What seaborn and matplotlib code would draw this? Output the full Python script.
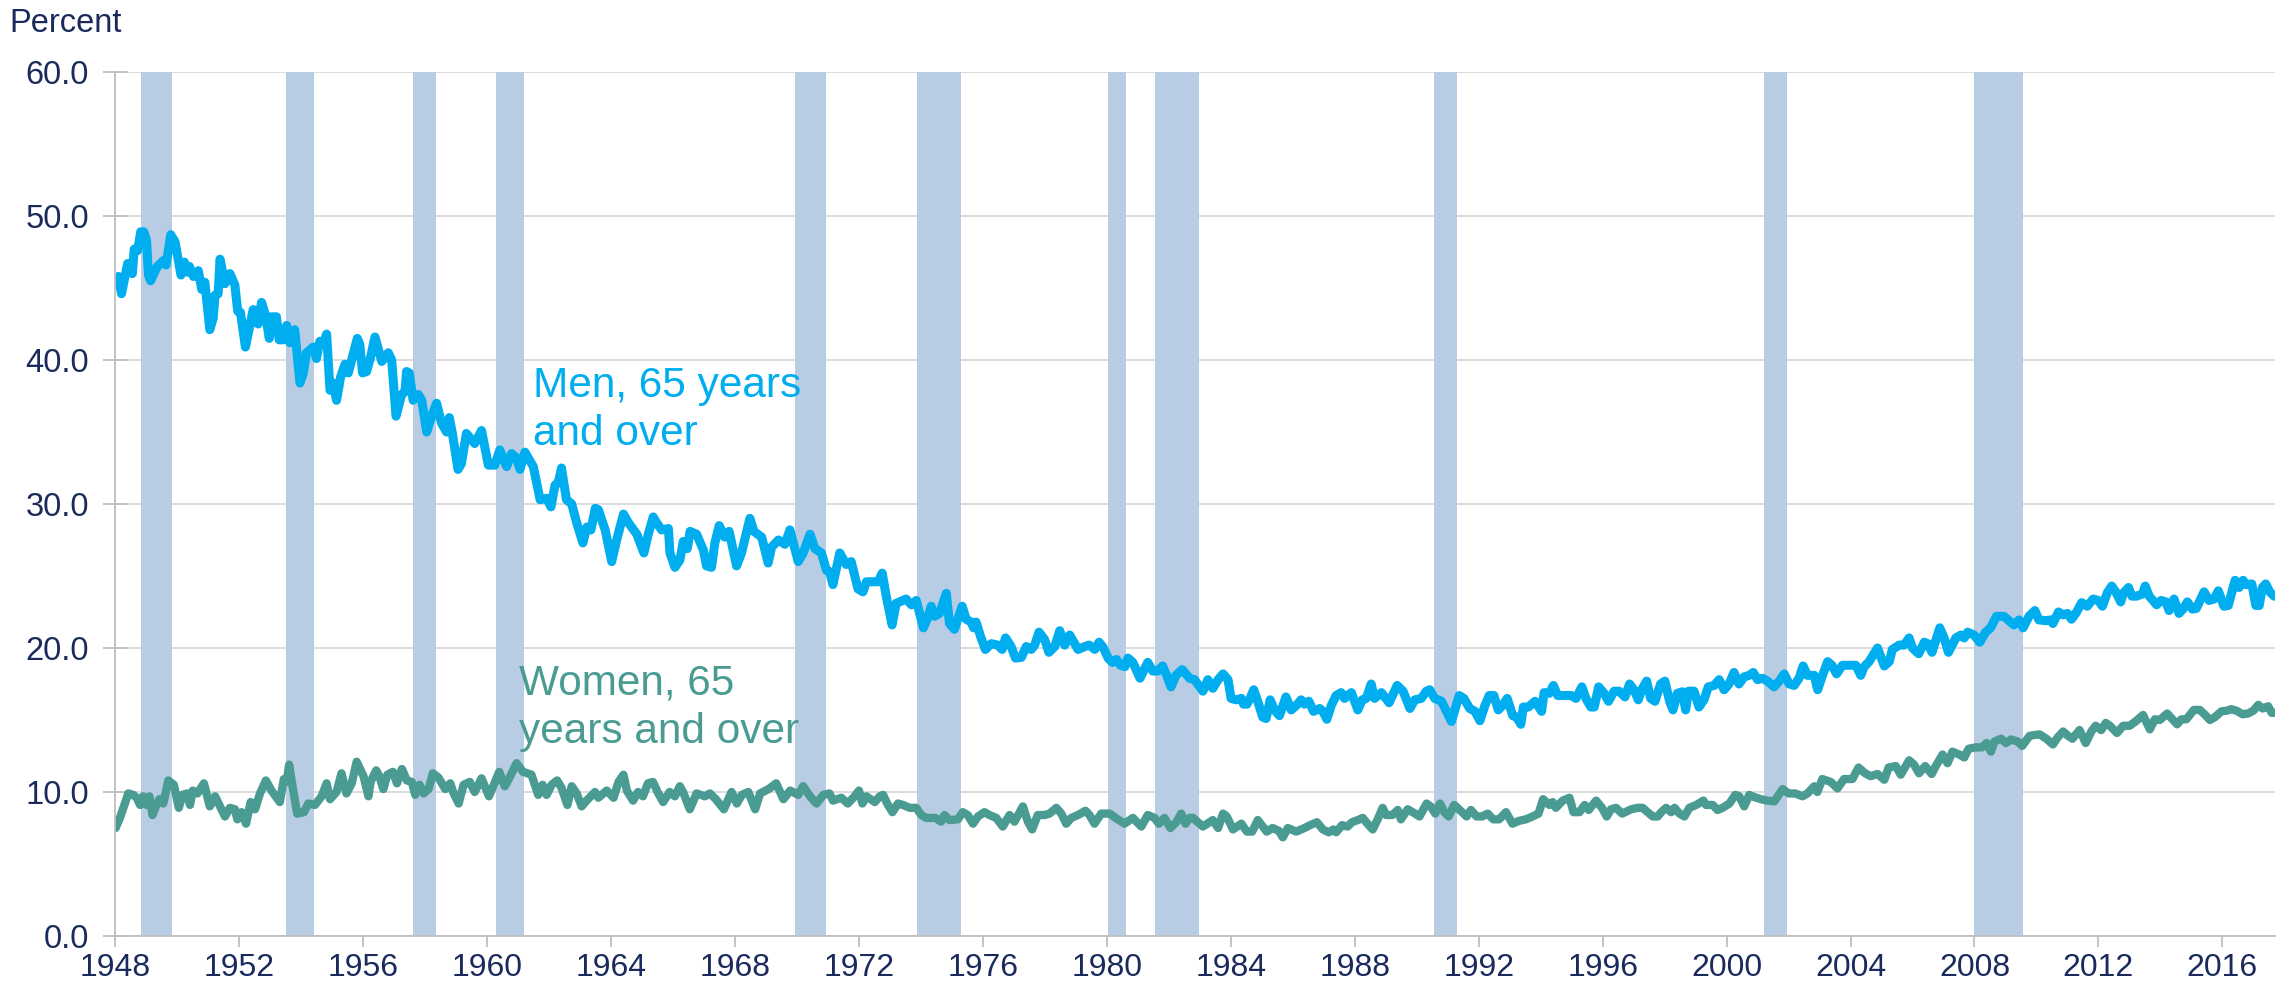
import matplotlib
matplotlib.use("Agg")
import matplotlib.pyplot as plt
import pandas as pd
import seaborn as sns

# Labor force participation, 65 years and over (percent)
men_t = [
    1948.05, 1948.10, 1948.20, 1948.40, 1948.55, 1948.61, 1948.72, 1948.82, 1948.92, 1949.01,
    1949.07, 1949.14, 1949.36, 1949.55, 1949.64, 1949.79, 1949.93, 1950.12, 1950.23, 1950.32,
    1950.39, 1950.52, 1950.68, 1950.79, 1950.89, 1951.05, 1951.16, 1951.22, 1951.32, 1951.38,
    1951.54, 1951.70, 1951.86, 1951.95, 1952.04, 1952.20, 1952.45, 1952.56, 1952.61, 1952.72,
    1952.85, 1952.97, 1953.04, 1953.20, 1953.29, 1953.40, 1953.53, 1953.63, 1953.79, 1953.96,
    1954.07, 1954.17, 1954.39, 1954.49, 1954.60, 1954.71, 1954.82, 1954.93, 1955.03, 1955.14,
    1955.27, 1955.41, 1955.52, 1955.81, 1955.89, 1955.98, 1956.11, 1956.24, 1956.38, 1956.60,
    1956.81, 1956.92, 1957.06, 1957.24, 1957.35, 1957.40, 1957.49, 1957.61, 1957.78, 1957.89,
    1958.05, 1958.21, 1958.37, 1958.53, 1958.69, 1958.78, 1958.88, 1959.06, 1959.17, 1959.33,
    1959.60, 1959.82, 1960.04, 1960.25, 1960.41, 1960.63, 1960.79, 1960.95, 1961.06, 1961.22,
    1961.49, 1961.71, 1961.92, 1962.06, 1962.19, 1962.30, 1962.40, 1962.56, 1962.73, 1962.89,
    1963.09, 1963.22, 1963.35, 1963.49, 1963.59, 1963.81, 1964.02, 1964.18, 1964.40, 1964.56,
    1964.83, 1965.06, 1965.20, 1965.36, 1965.47, 1965.63, 1965.85, 1965.90, 1966.06, 1966.22,
    1966.33, 1966.46, 1966.55, 1966.76, 1966.98, 1967.08, 1967.24, 1967.35, 1967.49, 1967.67,
    1967.81, 1967.94, 1968.05, 1968.21, 1968.48, 1968.61, 1968.86, 1969.07, 1969.18, 1969.40,
    1969.61, 1969.77, 1970.04, 1970.20, 1970.42, 1970.58, 1970.79, 1970.95, 1971.05, 1971.16,
    1971.38, 1971.59, 1971.75, 1971.97, 1972.13, 1972.24, 1972.45, 1972.62, 1972.75, 1972.88,
    1973.07, 1973.20, 1973.31, 1973.52, 1973.69, 1973.85, 1974.08, 1974.22, 1974.33, 1974.44,
    1974.60, 1974.82, 1974.92, 1975.08, 1975.19, 1975.33, 1975.46, 1975.62, 1975.70, 1975.78,
    1975.94, 1976.08, 1976.27, 1976.48, 1976.62, 1976.73, 1976.91, 1977.05, 1977.24, 1977.40,
    1977.56, 1977.67, 1977.81, 1977.99, 1978.13, 1978.32, 1978.48, 1978.64, 1978.80, 1979.07,
    1979.29, 1979.43, 1979.61, 1979.75, 1979.88, 1980.04, 1980.18, 1980.31, 1980.44, 1980.58,
    1980.68, 1980.84, 1981.07, 1981.32, 1981.48, 1981.64, 1981.80, 1981.93, 1982.07, 1982.23,
    1982.43, 1982.67, 1982.83, 1983.10, 1983.26, 1983.42, 1983.59, 1983.75, 1983.91, 1984.01,
    1984.17, 1984.34, 1984.41, 1984.52, 1984.60, 1984.74, 1984.87, 1985.03, 1985.14, 1985.27,
    1985.41, 1985.57, 1985.78, 1985.95, 1986.11, 1986.27, 1986.38, 1986.52, 1986.67, 1986.87,
    1986.97, 1987.10, 1987.24, 1987.40, 1987.56, 1987.67, 1987.89, 1988.10, 1988.24, 1988.37,
    1988.53, 1988.64, 1988.86, 1989.11, 1989.37, 1989.56, 1989.78, 1989.94, 1990.15, 1990.31,
    1990.42, 1990.58, 1990.80, 1990.96, 1991.12, 1991.23, 1991.37, 1991.52, 1991.71, 1991.88,
    1992.04, 1992.20, 1992.34, 1992.49, 1992.63, 1992.77, 1992.92, 1993.10, 1993.23, 1993.36,
    1993.44, 1993.60, 1993.82, 1994.03, 1994.11, 1994.28, 1994.41, 1994.55, 1994.76, 1994.98,
    1995.14, 1995.33, 1995.46, 1995.62, 1995.73, 1995.87, 1996.05, 1996.19, 1996.37, 1996.53,
    1996.72, 1996.87, 1997.01, 1997.15, 1997.26, 1997.42, 1997.55, 1997.69, 1997.87, 1998.01,
    1998.16, 1998.27, 1998.41, 1998.57, 1998.68, 1998.77, 1998.95, 1999.11, 1999.27, 1999.41,
    1999.60, 1999.76, 1999.92, 2000.08, 2000.24, 2000.40, 2000.57, 2000.73, 2000.86, 2001.00,
    2001.16, 2001.32, 2001.53, 2001.70, 2001.86, 2002.02, 2002.18, 2002.34, 2002.47, 2002.61,
    2002.83, 2002.94, 2003.08, 2003.26, 2003.40, 2003.55, 2003.74, 2003.96, 2004.17, 2004.33,
    2004.44, 2004.60, 2004.87, 2005.09, 2005.25, 2005.35, 2005.57, 2005.73, 2005.89, 2006.00,
    2006.20, 2006.38, 2006.49, 2006.63, 2006.88, 2007.02, 2007.16, 2007.40, 2007.56, 2007.67,
    2007.78, 2007.99, 2008.17, 2008.36, 2008.52, 2008.71, 2008.95, 2009.11, 2009.27, 2009.44,
    2009.57, 2009.76, 2009.95, 2010.08, 2010.30, 2010.46, 2010.53, 2010.71, 2010.86, 2011.00,
    2011.13, 2011.27, 2011.46, 2011.64, 2011.83, 2012.00, 2012.13, 2012.29, 2012.43, 2012.56,
    2012.72, 2012.80, 2012.97, 2013.08, 2013.23, 2013.42, 2013.51, 2013.64, 2013.88, 2014.02,
    2014.18, 2014.28, 2014.44, 2014.60, 2014.73, 2014.87, 2015.03, 2015.16, 2015.41, 2015.57,
    2015.73, 2015.87, 2016.05, 2016.19, 2016.41, 2016.54, 2016.67, 2016.77, 2016.95, 2017.08,
    2017.19, 2017.29, 2017.40, 2017.53, 2017.67,
]
men_v = [
    45.6, 45.8, 44.6, 46.7, 46.0, 47.7, 47.6, 48.9, 48.9, 48.3,
    45.9, 45.5, 46.5, 46.9, 46.6, 48.7, 48.2, 45.9, 46.8, 46.1,
    46.5, 45.8, 46.2, 44.9, 45.4, 42.1, 42.9, 44.5, 44.6, 47.0,
    45.3, 46.0, 45.2, 43.4, 43.3, 40.9, 43.5, 43.4, 42.5, 44.0,
    43.1, 41.5, 43.0, 43.0, 41.4, 41.4, 42.4, 41.2, 42.1, 38.4,
    39.1, 40.5, 40.9, 40.1, 41.3, 41.1, 41.8, 37.9, 38.4, 37.2,
    38.8, 39.7, 39.1, 41.5, 41.1, 39.1, 39.2, 40.2, 41.6, 39.9,
    40.5, 40.0, 36.1, 37.6, 37.8, 39.2, 39.1, 37.2, 37.6, 37.2,
    35.0, 36.1, 37.0, 35.6, 35.0, 36.0, 34.9, 32.4, 32.8, 34.9,
    34.2, 35.1, 32.7, 32.7, 33.75, 32.6, 33.5, 33.2, 32.4, 33.6,
    32.6, 30.3, 30.4, 29.8, 31.3, 31.5, 32.5, 30.3, 30.0, 28.7,
    27.3, 28.4, 28.2, 29.7, 29.6, 28.2, 26.0, 27.5, 29.3, 28.7,
    27.9, 26.6, 27.9, 29.1, 28.7, 28.2, 28.3, 26.6, 25.6, 26.1,
    27.4, 26.9, 28.1, 27.9, 26.8, 25.7, 25.6, 27.3, 28.5, 27.7,
    28.1, 26.8, 25.7, 26.6, 29.0, 28.1, 27.7, 25.9, 27.0, 27.5,
    27.2, 28.2, 26.0, 26.6, 27.9, 26.9, 26.6, 25.4, 25.3, 24.4,
    26.6, 25.8, 26.0, 24.1, 23.9, 24.6, 24.6, 24.6, 25.2, 23.6,
    21.6, 23.1, 23.2, 23.4, 23.0, 23.3, 21.4, 22.1, 22.9, 22.2,
    22.4, 23.8, 21.7, 21.3, 22.0, 22.9, 22.0, 21.8, 21.4, 21.8,
    20.7, 19.9, 20.3, 20.2, 19.9, 20.7, 20.1, 19.3, 19.35, 20.1,
    19.9, 20.2, 21.1, 20.6, 19.7, 20.1, 21.2, 20.2, 20.9, 19.9,
    20.1, 20.2, 19.9, 20.4, 20.05, 19.3, 19.0, 19.2, 18.8, 18.7,
    19.3, 19.0, 17.9, 19.0, 18.4, 18.4, 18.75, 18.1, 17.3, 18.1,
    18.5, 17.9, 17.8, 17.0, 17.8, 17.2, 17.8, 18.2, 17.8, 16.5,
    16.4, 16.5, 16.1, 16.1, 16.4, 17.1, 16.3, 15.2, 15.1, 16.4,
    15.7, 15.3, 16.6, 15.7, 16.0, 16.4, 16.1, 16.3, 15.6, 15.8,
    15.6, 15.05, 16.0, 16.7, 16.9, 16.5, 16.9, 15.7, 16.4, 16.5,
    17.5, 16.5, 16.9, 16.2, 17.4, 17.0, 15.8, 16.4, 16.5, 17.0,
    17.1, 16.5, 16.3, 15.6, 14.9, 15.7, 16.7, 16.5, 15.8, 15.6,
    14.95, 16.0, 16.7, 16.7, 15.7, 16.0, 16.5, 15.3, 15.2, 14.7,
    15.9, 15.9, 16.3, 15.6, 16.9, 16.85, 17.4, 16.7, 16.7, 16.7,
    16.5, 17.3, 16.5, 15.9, 15.9, 17.3, 16.85, 16.3, 17.0, 17.0,
    16.6, 17.5, 17.1, 16.4, 17.1, 17.7, 16.5, 16.3, 17.5, 17.7,
    16.3, 15.7, 16.85, 16.96, 15.7, 17.0, 17.0, 15.9, 16.4, 17.3,
    17.4, 17.8, 17.1, 17.5, 18.3, 17.5, 18.0, 18.1, 18.3, 17.8,
    17.9, 17.7, 17.3, 17.7, 18.2, 17.5, 17.4, 17.9, 18.75, 18.1,
    18.1, 17.1, 18.0, 19.05, 18.8, 18.2, 18.8, 18.8, 18.8, 18.1,
    18.7, 19.05, 20.0, 18.75, 19.05, 19.9, 20.2, 20.2, 20.7, 20.0,
    19.6, 20.4, 20.3, 19.7, 21.4, 20.7, 19.7, 20.7, 20.9, 20.7,
    21.1, 20.9, 20.4, 21.1, 21.4, 22.2, 22.2, 21.9, 21.6, 21.95,
    21.4, 22.2, 22.6, 21.95, 21.9, 21.95, 21.7, 22.5, 22.3, 22.4,
    22.0, 22.4, 23.15, 22.9, 23.4, 23.3, 22.9, 23.85, 24.3, 23.9,
    23.2, 23.8, 24.2, 23.6, 23.6, 23.75, 24.3, 23.6, 23.0, 23.3,
    23.2, 22.6, 23.4, 22.4, 22.7, 23.2, 22.7, 22.75, 23.9, 23.3,
    23.4, 23.97, 22.9, 22.95, 24.7, 24.2, 24.7, 24.4, 24.45, 22.95,
    22.95, 24.2, 24.45, 23.9, 23.6,
]

women_t = [
    1948.01, 1948.15, 1948.42, 1948.58, 1948.69, 1948.80, 1948.90, 1949.01, 1949.10, 1949.20,
    1949.31, 1949.42, 1949.55, 1949.71, 1949.89, 1950.05, 1950.17, 1950.32, 1950.41, 1950.50,
    1950.65, 1950.86, 1951.05, 1951.22, 1951.54, 1951.70, 1951.86, 1951.94, 1952.08, 1952.22,
    1952.37, 1952.51, 1952.67, 1952.86, 1953.04, 1953.31, 1953.44, 1953.53, 1953.61, 1953.72,
    1953.87, 1954.09, 1954.23, 1954.44, 1954.66, 1954.82, 1954.93, 1955.14, 1955.30, 1955.46,
    1955.63, 1955.79, 1956.01, 1956.17, 1956.24, 1956.42, 1956.52, 1956.65, 1956.78, 1956.96,
    1957.09, 1957.25, 1957.41, 1957.57, 1957.68, 1957.82, 1957.95, 1958.11, 1958.25, 1958.43,
    1958.65, 1958.81, 1958.92, 1959.08, 1959.24, 1959.44, 1959.60, 1959.82, 1960.06, 1960.39,
    1960.57, 1960.71, 1960.95, 1961.16, 1961.43, 1961.65, 1961.79, 1961.92, 1962.08, 1962.26,
    1962.40, 1962.59, 1962.73, 1962.89, 1963.05, 1963.21, 1963.48, 1963.59, 1963.86, 1964.08,
    1964.24, 1964.40, 1964.51, 1964.71, 1964.87, 1965.03, 1965.19, 1965.35, 1965.51, 1965.68,
    1965.89, 1966.06, 1966.22, 1966.33, 1966.54, 1966.76, 1967.03, 1967.19, 1967.38, 1967.64,
    1967.89, 1968.06, 1968.22, 1968.43, 1968.65, 1968.81, 1969.08, 1969.33, 1969.56, 1969.78,
    1970.04, 1970.20, 1970.42, 1970.63, 1970.85, 1971.05, 1971.16, 1971.43, 1971.64, 1971.86,
    1972.00, 1972.11, 1972.24, 1972.51, 1972.67, 1972.78, 1972.91, 1973.08, 1973.26, 1973.42,
    1973.64, 1973.85, 1974.01, 1974.17, 1974.47, 1974.65, 1974.76, 1974.92, 1975.19, 1975.35,
    1975.51, 1975.68, 1975.84, 1976.05, 1976.21, 1976.43, 1976.64, 1976.86, 1977.02, 1977.29,
    1977.45, 1977.59, 1977.77, 1977.99, 1978.15, 1978.37, 1978.53, 1978.69, 1978.85, 1979.07,
    1979.31, 1979.44, 1979.60, 1979.82, 1980.09, 1980.28, 1980.57, 1980.84, 1981.11, 1981.32,
    1981.54, 1981.68, 1981.86, 1982.05, 1982.24, 1982.40, 1982.54, 1982.67, 1982.78, 1983.10,
    1983.42, 1983.59, 1983.75, 1983.87, 1984.07, 1984.34, 1984.52, 1984.69, 1984.87, 1985.16,
    1985.35, 1985.55, 1985.68, 1985.84, 1986.11, 1986.38, 1986.56, 1986.78, 1986.97, 1987.16,
    1987.31, 1987.40, 1987.59, 1987.77, 1987.91, 1988.10, 1988.26, 1988.37, 1988.58, 1988.74,
    1988.90, 1989.01, 1989.21, 1989.39, 1989.49, 1989.71, 1989.87, 1990.09, 1990.32, 1990.46,
    1990.60, 1990.75, 1990.89, 1991.03, 1991.21, 1991.39, 1991.61, 1991.75, 1991.93, 1992.11,
    1992.29, 1992.47, 1992.66, 1992.88, 1993.09, 1993.31, 1993.52, 1993.74, 1993.93, 1994.08,
    1994.28, 1994.39, 1994.49, 1994.71, 1994.93, 1995.06, 1995.25, 1995.42, 1995.55, 1995.79,
    1995.98, 1996.13, 1996.27, 1996.43, 1996.63, 1996.92, 1997.13, 1997.29, 1997.45, 1997.62,
    1997.78, 1997.89, 1998.05, 1998.21, 1998.32, 1998.48, 1998.64, 1998.80, 1999.02, 1999.25,
    1999.34, 1999.55, 1999.71, 1999.87, 2000.09, 2000.28, 2000.41, 2000.57, 2000.73, 2000.89,
    2001.11, 2001.32, 2001.54, 2001.81, 2002.00, 2002.21, 2002.45, 2002.61, 2002.83, 2002.93,
    2003.09, 2003.36, 2003.58, 2003.79, 2004.06, 2004.26, 2004.47, 2004.65, 2004.87, 2005.09,
    2005.23, 2005.46, 2005.62, 2005.89, 2006.05, 2006.21, 2006.41, 2006.62, 2006.75, 2006.97,
    2007.13, 2007.29, 2007.51, 2007.67, 2007.81, 2008.04, 2008.24, 2008.39, 2008.53, 2008.64,
    2008.86, 2009.02, 2009.18, 2009.40, 2009.54, 2009.78, 2009.94, 2010.10, 2010.32, 2010.53,
    2010.69, 2010.86, 2011.02, 2011.16, 2011.39, 2011.59, 2011.77, 2011.91, 2012.09, 2012.24,
    2012.37, 2012.60, 2012.80, 2013.01, 2013.23, 2013.44, 2013.66, 2013.82, 2013.98, 2014.22,
    2014.41, 2014.54, 2014.68, 2014.84, 2015.08, 2015.27, 2015.40, 2015.60, 2015.76, 2015.97,
    2016.15, 2016.29, 2016.45, 2016.65, 2016.83, 2017.00, 2017.16, 2017.30, 2017.48, 2017.59,
    2017.70,
]
women_v = [
    7.5, 8.2, 9.9, 9.8, 9.6, 9.1, 9.7, 9.1, 9.7, 8.4,
    9.0, 9.5, 9.2, 10.8, 10.5, 8.9, 9.8, 9.9, 9.1, 10.1,
    9.9, 10.6, 9.0, 9.7, 8.3, 8.9, 8.8, 8.1, 8.6, 7.8,
    9.3, 8.8, 9.9, 10.8, 10.1, 9.3, 10.9, 10.7, 11.9, 10.4,
    8.5, 8.6, 9.2, 9.1, 9.7, 10.6, 9.5, 10.0, 11.3, 9.9,
    10.6, 12.1, 11.1, 9.7, 10.7, 11.5, 11.1, 10.2, 11.2, 11.4,
    10.6, 11.6, 10.8, 10.7, 9.8, 10.5, 9.9, 10.2, 11.3, 11.0,
    10.2, 10.6, 9.9, 9.2, 10.5, 10.7, 10.0, 10.95, 9.7, 11.4,
    10.4, 10.95, 12.0, 11.4, 11.2, 9.8, 10.5, 9.8, 10.5, 10.8,
    10.3, 9.1, 10.4, 9.9, 9.0, 9.4, 10.0, 9.6, 10.1, 9.6,
    10.7, 11.2, 10.1, 9.4, 10.0, 9.7, 10.6, 10.7, 9.96, 9.3,
    10.0, 9.7, 10.4, 9.96, 8.8, 9.9, 9.7, 9.9, 9.5, 8.8,
    10.0, 9.2, 9.8, 10.0, 8.8, 9.9, 10.2, 10.6, 9.5, 10.1,
    9.8, 10.4, 9.7, 9.2, 9.8, 9.9, 9.4, 9.6, 9.2, 9.7,
    10.1, 9.2, 9.7, 9.3, 9.7, 9.8, 9.2, 8.6, 9.2, 9.1,
    8.9, 8.9, 8.4, 8.2, 8.2, 7.94, 8.4, 8.05, 8.1, 8.6,
    8.4, 7.8, 8.3, 8.6, 8.4, 8.2, 7.6, 8.4, 7.94, 9.0,
    7.94, 7.4, 8.4, 8.4, 8.5, 8.9, 8.5, 7.8, 8.2, 8.4,
    8.7, 8.4, 7.8, 8.5, 8.5, 8.2, 7.8, 8.2, 7.6, 8.4,
    8.2, 7.8, 8.2, 7.5, 7.9, 8.5, 7.8, 8.2, 8.2, 7.6,
    8.05, 7.5, 8.5, 8.3, 7.4, 7.8, 7.25, 7.25, 8.05, 7.25,
    7.5, 7.3, 6.85, 7.5, 7.25, 7.5, 7.7, 7.9, 7.4, 7.2,
    7.4, 7.2, 7.7, 7.6, 7.9, 8.05, 8.2, 7.9, 7.4, 8.1,
    8.9, 8.4, 8.4, 8.75, 8.1, 8.8, 8.6, 8.3, 9.2, 8.97,
    8.5, 9.2, 8.6, 8.3, 9.1, 8.75, 8.3, 8.75, 8.3, 8.3,
    8.5, 8.1, 8.1, 8.6, 7.8, 8.0, 8.1, 8.3, 8.5, 9.5,
    9.1, 9.3, 8.9, 9.4, 9.6, 8.6, 8.6, 9.1, 8.75, 9.4,
    8.9, 8.3, 8.8, 8.9, 8.5, 8.8, 8.9, 8.9, 8.6, 8.3,
    8.3, 8.6, 8.9, 8.6, 8.9, 8.5, 8.3, 8.9, 9.1, 9.4,
    9.1, 9.1, 8.75, 8.9, 9.2, 9.8, 9.7, 9.0, 9.8, 9.65,
    9.5, 9.4, 9.35, 10.2, 9.9, 9.9, 9.7, 9.9, 10.4, 10.0,
    10.9, 10.7, 10.25, 10.9, 10.9, 11.7, 11.3, 11.1, 11.25, 10.85,
    11.7, 11.8, 11.2, 12.2, 11.9, 11.3, 11.8, 11.25, 11.8, 12.6,
    12.0, 12.8, 12.6, 12.4, 13.0, 13.1, 13.1, 13.4, 12.8, 13.5,
    13.7, 13.4, 13.65, 13.5, 13.2, 13.9, 13.96, 14.0, 13.7, 13.3,
    13.8, 14.2, 13.9, 13.7, 14.3, 13.4, 14.2, 14.6, 14.3, 14.8,
    14.6, 14.1, 14.6, 14.6, 14.95, 15.35, 14.35, 15.05, 15.0, 15.45,
    15.0, 14.7, 15.05, 15.05, 15.7, 15.7, 15.45, 15.0, 15.2, 15.6,
    15.65, 15.75, 15.65, 15.4, 15.45, 15.65, 16.05, 15.8, 15.95, 15.5,
    15.5,
]

# NBER recessions (decimal years)
rec_start = [1948.83, 1953.51, 1957.60, 1960.28, 1969.95, 1973.88, 1980.05, 1981.54, 1990.57, 2001.20, 2007.98]
rec_end = [1949.83, 1954.41, 1958.35, 1961.19, 1970.95, 1975.28, 1980.63, 1982.96, 1991.30, 2001.95, 2009.55]

year_ticks = list(range(1948, 2017, 4))
pct_ticks = [0, 10, 20, 30, 40, 50, 60]

MEN_COLOR = "#00AEEF"
WOMEN_COLOR = "#4A9B92"
BAND_COLOR = "#B8CCE4"
TEXT_COLOR = "#1B2A5C"

men = pd.DataFrame({"year": men_t, "pct": men_v})
women = pd.DataFrame({"year": women_t, "pct": women_v})

sns.set_theme(style="white")
plt.rcParams["font.family"] = ["Liberation Sans", "DejaVu Sans"]

fig = plt.figure(figsize=(22.92, 9.89), dpi=100)
ax = fig.add_axes([0.0503, 0.0536, 0.9423, 0.8736])

for s, e in zip(rec_start, rec_end):
    ax.axvspan(s, e, color=BAND_COLOR, lw=0, zorder=1)

sns.lineplot(data=men, x="year", y="pct", color=MEN_COLOR, lw=6.5, ax=ax, zorder=3)
sns.lineplot(data=women, x="year", y="pct", color=WOMEN_COLOR, lw=6.0, ax=ax, zorder=3)

ax.set_xlim(1948, 2017.7)
ax.set_ylim(0, 60)
ax.set_yticks(pct_ticks)
ax.set_yticklabels([f"{v:.1f}" for v in pct_ticks])
ax.set_xticks(year_ticks)
ax.set_xticklabels([str(y) for y in year_ticks])
ax.set_xlabel("")
ax.set_ylabel("")

ax.yaxis.grid(True, color="#D9D9D9", lw=1.3, zorder=0)
ax.set_axisbelow(True)
for side in ["top", "right"]:
    ax.spines[side].set_visible(False)
ax.spines["left"].set_color("#BFBFBF")
ax.spines["bottom"].set_color("#BFBFBF")
ax.spines["left"].set_linewidth(1.3)
ax.spines["bottom"].set_linewidth(1.3)
ax.spines["left"].set_zorder(4)
ax.spines["bottom"].set_zorder(4)

ax.tick_params(axis="y", direction="inout", length=18, width=1.3, color="#BFBFBF",
               labelsize=23.5, labelcolor=TEXT_COLOR, pad=10, left=True)
ax.tick_params(axis="x", direction="out", length=8, width=1.3, color="#BFBFBF",
               labelsize=23, labelcolor=TEXT_COLOR, pad=4, bottom=True)

fig.text(0.004, 0.976, "Percent", fontsize=23.5, color=TEXT_COLOR, ha="left", va="center")

ax.text(1961.47, 39.6, "Men, 65 years\nand over", fontsize=30.5, color=MEN_COLOR,
        ha="left", va="top", linespacing=1.27, zorder=5)
ax.text(1961.02, 18.9, "Women, 65\nyears and over", fontsize=30.5, color=WOMEN_COLOR,
        ha="left", va="top", linespacing=1.27, zorder=5)

fig.savefig("out.png", dpi=100)
